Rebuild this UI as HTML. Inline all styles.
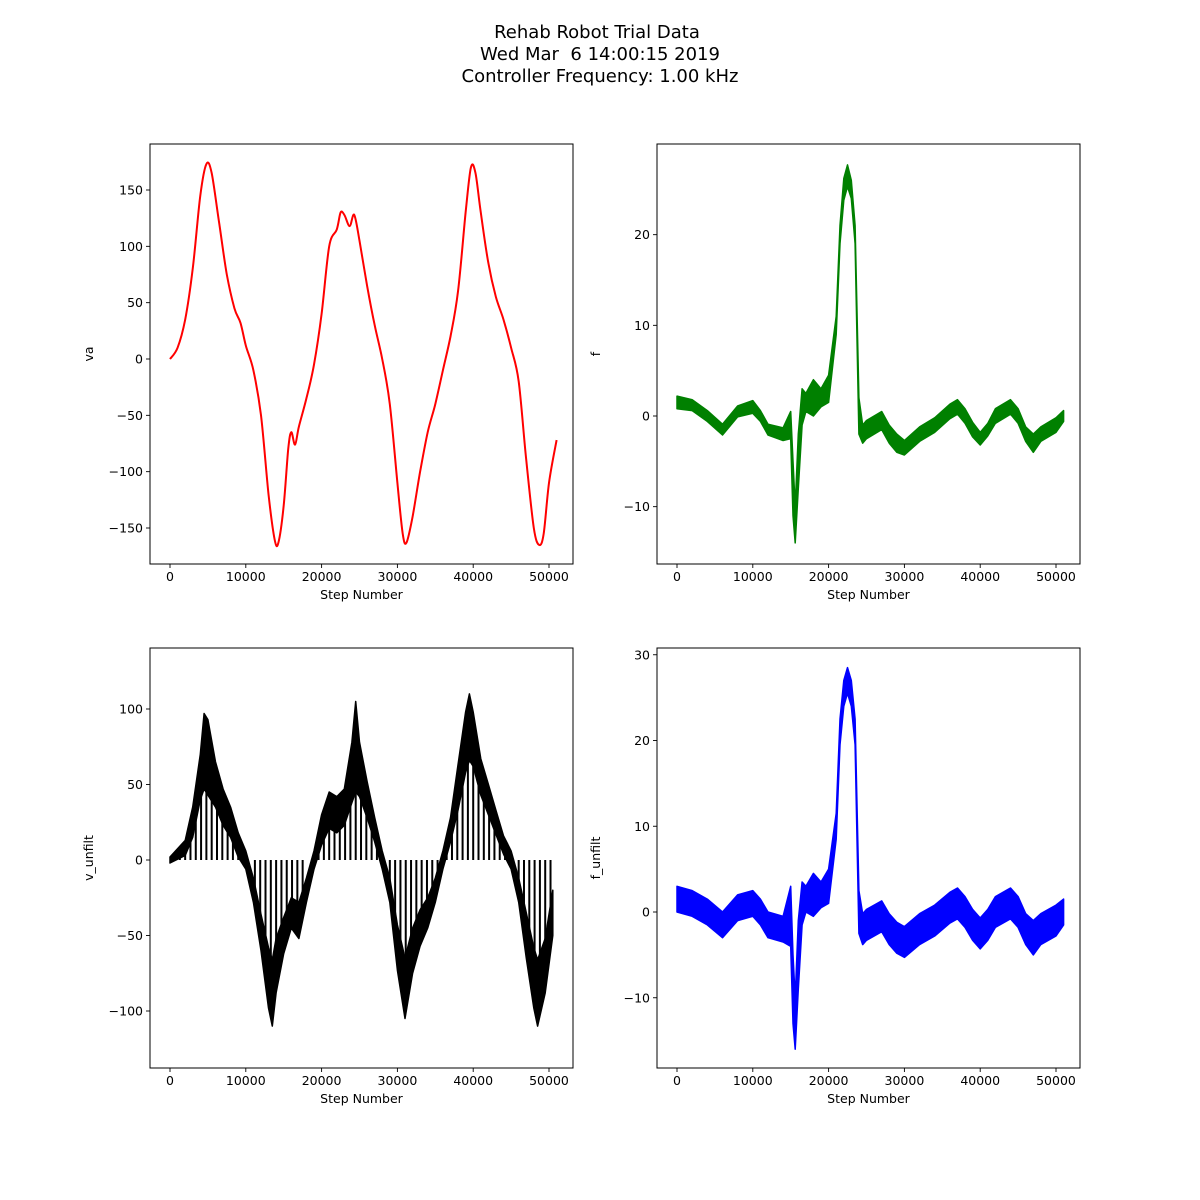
<!DOCTYPE html>
<html><head><meta charset="utf-8">
<style>
html,body{margin:0;padding:0;background:#fff;overflow:hidden;width:1200px;height:1200px;}
svg{display:block;}
svg text{font-family:"DejaVu Sans","Liberation Sans",sans-serif;}
</style></head>
<body>
<svg id="fig" width="1200" height="1200" viewBox="0 0 1200 1200" xmlns="http://www.w3.org/2000/svg">
<rect width="1200" height="1200" fill="#fff"/>
<g font-size="18" text-anchor="middle" fill="#000" style="white-space:pre">
<text x="597" y="38">Rehab Robot Trial Data</text>
<text x="600" y="60" xml:space="preserve">Wed Mar  6 14:00:15 2019</text>
<text x="600" y="82">Controller Frequency: 1.00 kHz</text>
</g>
</svg>
<script>
// ---- data (x in thousands of steps) ----
const vaX=[0,1,2,3,4,4.8,5.5,6.5,7.5,8.5,9.3,10,11,12,13,13.8,14.3,15,15.6,16,16.5,17,18,19,20,21,22,22.5,23,23.7,24.3,25,26,27,28,29,30,30.7,31.2,32,33,34,35,36,37,38,39,39.7,40.3,41,42,43,44,45,46,47,48,48.7,49.3,50,51];
const vaY=[0,10,35,80,145,173,165,120,75,45,32,12,-10,-50,-120,-160,-163,-130,-80,-65,-76,-60,-35,-5,40,100,115,130,128,118,128,105,65,30,0,-40,-110,-155,-163,-140,-100,-65,-40,-10,20,60,130,170,165,130,85,55,35,10,-20,-90,-150,-165,-155,-110,-72];

const fX=[0,2,4,6,8,10,11,12,14,15,15.3,15.6,16,16.5,17,18,19,20,21,21.5,22,22.5,23,23.5,24,24.5,25,27,28,29,30,32,34,36,37,38,39,40,41,42,44,45,46,47,48,50,51];
const fC=[1.5,1.2,0,-1.5,0.5,1,0,-1.5,-2,-1,-8,-12,-5,1,1.5,2,2,3,10,20,25,26.5,25,20,0,-2,-1.5,-0.5,-2,-3,-3.5,-2,-1,0.5,1,0,-1.5,-2.5,-1.5,0,1,0,-2,-3,-2,-1,0];
const fH=[0.7,0.6,0.6,0.6,0.6,0.7,0.6,0.6,0.7,1.5,3,2,3,2,1,2,1,1.5,1,1,1.2,1.2,1,1,2,1,1,1,1,1,0.8,0.8,0.8,0.8,0.8,0.8,0.8,0.7,0.7,0.8,0.8,0.8,0.8,1,0.8,0.8,0.6];

const fuC=[1.5,1,0,-1.5,0.5,1,0,-1.5,-2,-0.5,-9,-13,-5,1,1.5,2,2,3,10,21,25.5,27,25.5,21,0,-2,-1.5,-0.5,-2,-3,-3.5,-2,-1,0.5,1,0,-1.5,-2.5,-1.5,0,1,0,-2,-3,-2,-1,0];
const fuH=[1.5,1.5,1.5,1.5,1.5,1.5,1.5,1.5,1.5,3.5,4,3,4,2.5,1.5,2.5,1.5,2,1.5,1.5,1.5,1.5,1.5,1.5,2.5,1.8,1.8,1.8,1.8,1.8,1.8,1.8,1.8,1.8,1.8,1.8,1.8,1.8,1.8,1.8,1.8,1.8,1.8,2,1.8,1.8,1.5];

const vuX=[0,2,3,4,4.5,5,6,7,8,9,10,11,12,13,13.5,14,15,16,17,18,19,20,21,22,23,24,24.5,25,26,27,28,29,30,31,32,33,34,35,36,37,38,39,39.5,40,41,42,43,44,45,46,47,48,48.5,49.5,50.5];
const vuC=[0,8,25,55,72,68,50,35,25,10,0,-20,-48,-78,-88,-70,-50,-35,-40,-20,0,20,33,30,35,58,75,60,40,20,0,-20,-58,-85,-60,-45,-35,-20,0,20,48,78,88,80,55,40,25,10,0,-20,-50,-78,-88,-70,-35];
const vuH=[2,5,10,15,25,25,15,12,10,8,6,8,12,20,22,18,12,10,12,8,6,10,12,12,12,20,30,18,12,8,6,8,15,20,15,12,10,8,6,8,15,20,22,18,12,10,8,6,6,8,15,20,22,18,15];
const dropX=[1.3,2,2.7,3.4,4.1,4.8,5.5,6.2,6.9,7.6,8.3,9,11.2,11.9,12.6,13.3,14,14.7,15.4,16.1,16.8,17.5,19.6,20.3,21,21.7,22.4,23.1,23.8,24.5,25.2,25.9,26.6,27.3,29,29.7,30.4,31.1,31.8,32.5,33.2,33.9,34.6,35.3,36.5,37.2,37.9,38.6,39.3,40,40.7,41.4,42.1,42.8,43.5,44.2,46,46.7,47.4,48.1,48.8,49.5,50.2];

const xTicks=[0,10000,20000,30000,40000,50000];
const vaTicks=[-150,-100,-50,0,50,100,150];
const fTicks=[-10,0,10,20];
const vuTicks=[-100,-50,0,50,100];
const fuTicks=[-10,0,10,20,30];

const NS="http://www.w3.org/2000/svg";
const svg=document.getElementById('fig');
function mk(tag,attrs,parent){const e=document.createElementNS(NS,tag);for(const k in attrs)e.setAttribute(k,attrs[k]);(parent||svg).appendChild(e);return e;}
function interp(xs,ys,x){if(x<=xs[0])return ys[0];for(let i=1;i<xs.length;i++){if(x<=xs[i]){const t=(x-xs[i-1])/(xs[i]-xs[i-1]);return ys[i-1]+t*(ys[i]-ys[i-1]);}}return ys[ys.length-1];}

function axes(name,L,T,R,B,x0px,y0val,y0px,pxPerY,yTicks,ylabel){
  const g=mk('g',{});
  
  
  const xs=v=>x0px+v*(379/50000);
  const ys=v=>y0px-(v-y0val)*pxPerY;
  const clip=mk('clipPath',{id:'c'+name},g);mk('rect',{x:L,y:T,width:R-L,height:B-T},clip);
  const plot=mk('g',{'clip-path':'url(#c'+name+')'},g);
  
  
  for(const t of xTicks){const x=xs(t);mk('line',{x1:x,x2:x,y1:B,y2:B+4,stroke:'#000','stroke-width':0.9},g);
    const tx=mk('text',{x:x,y:B+17,'font-size':12.5,'text-anchor':'middle'},g);tx.textContent=t;
    }
  for(const t of yTicks){const y=ys(t);mk('line',{x1:L-4,x2:L,y1:y,y2:y,stroke:'#000','stroke-width':0.9},g);
    const tx=mk('text',{x:L-7,y:y+4.5,'font-size':12.5,'text-anchor':'end'},g);tx.textContent=(t<0?'\u2212'+(-t):t);
    }
  const xl=mk('text',{x:(L+R)/2,y:B+35,'font-size':12.5,'text-anchor':'middle'},g);xl.textContent='Step Number';
  
  const yl=mk('text',{x:0,y:0,'font-size':12.5,'text-anchor':'middle',transform:`translate(${L-57},${(T+B)/2}) rotate(-90)`},g);yl.textContent=ylabel;
  
  return {g,plot,xs,ys,L,T,R,B};
}
function frame(a){mk('rect',{x:a.L,y:a.T,width:a.R-a.L,height:a.B-a.T,fill:'none',stroke:'#000','stroke-width':1},a.g);}
function smoothPath(P){let d='M'+P[0][0].toFixed(1)+' '+P[0][1].toFixed(1);
  for(let i=0;i<P.length-1;i++){const p0=P[Math.max(0,i-1)],p1=P[i],p2=P[i+1],p3=P[Math.min(P.length-1,i+2)];
    const c1x=p1[0]+(p2[0]-p0[0])/6,c1y=p1[1]+(p2[1]-p0[1])/6,c2x=p2[0]-(p3[0]-p1[0])/6,c2y=p2[1]-(p3[1]-p1[1])/6;
    d+=`C${c1x.toFixed(1)} ${c1y.toFixed(1)} ${c2x.toFixed(1)} ${c2y.toFixed(1)} ${p2[0].toFixed(1)} ${p2[1].toFixed(1)}`;}
  return d;}
function line(a,X,Y,color,w,name){const P=X.map((x,i)=>[a.xs(x*1000),a.ys(Y[i])]);
  const p=mk('path',{d:smoothPath(P),fill:'none',stroke:color,'stroke-width':w,'stroke-linejoin':'round'},a.plot);
  }
function band(a,X,C,H,color,name){let d='';X.forEach((x,i)=>{d+=(i?'L':'M')+a.xs(x*1000).toFixed(1)+' '+a.ys(C[i]+H[i]).toFixed(1);});
  for(let i=X.length-1;i>=0;i--)d+='L'+a.xs(X[i]*1000).toFixed(1)+' '+a.ys(C[i]-H[i]).toFixed(1);d+='Z';
  const p=mk('path',{d:d,fill:color,stroke:color,'stroke-width':1.5,'stroke-linejoin':'round'},a.plot);
  }

const a1=axes('va-subplot',150,144,573,564,170,0,359,338/300,vaTicks,'va');
line(a1,vaX,vaY,'#ff0000',2,'va-line');frame(a1);

const a2=axes('f-subplot',657,144,1080,564,677,0,416,272/30,fTicks,'f');
band(a2,fX,fC,fH,'#008000','f-line');frame(a2);

const a3=axes('v-unfilt-subplot',150,648,573,1068,170,0,860,302/200,vuTicks,'v_unfilt');
band(a3,vuX,vuC,vuH,'#000','v-unfilt-line');
for(const dx of dropX){const x=a3.xs(dx*1000);const l=mk('line',{x1:x,x2:x,y1:a3.ys(0),y2:a3.ys(interp(vuX,vuC,dx)),stroke:'#000','stroke-width':2},a3.plot);
  }
frame(a3);

const a4=axes('f-unfilt-subplot',657,648,1080,1068,677,0,912,343/40,fuTicks,'f_unfilt');
band(a4,fX,fuC,fuH,'#0000ff','f-unfilt-line');frame(a4);
</script>
</body></html>
